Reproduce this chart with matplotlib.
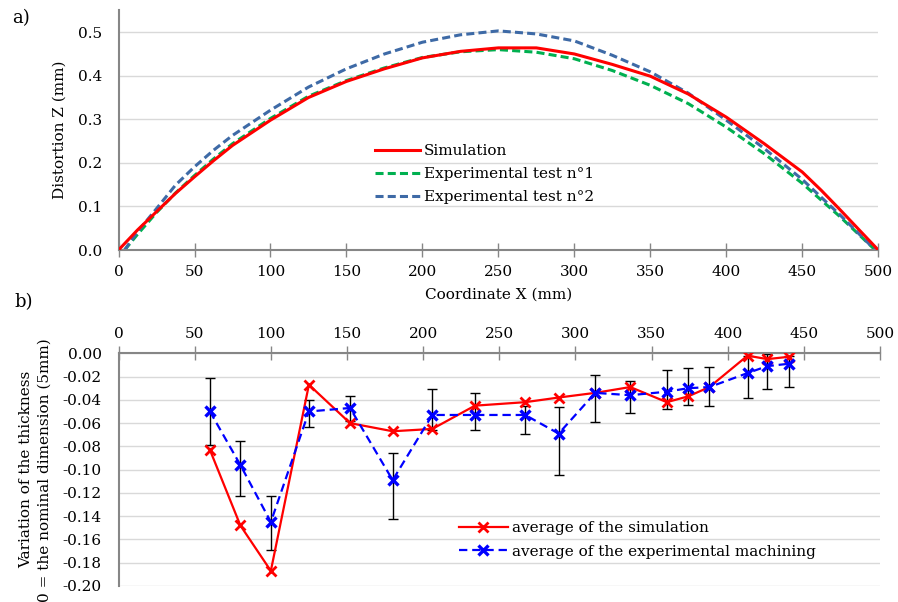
import matplotlib
matplotlib.use("Agg")
import matplotlib.pyplot as plt
import matplotlib.ticker as ticker

plt.rcParams["font.family"] = "DejaVu Serif"
plt.rcParams["font.size"] = 11
plt.rcParams["lines.scale_dashes"] = False

# a) distortion along the part
x_sim = [0, 12.5, 25, 37.5, 50, 62.5, 75, 100, 125, 150, 175, 200, 225, 250, 275, 300,
         325, 350, 375, 400, 425, 450, 462.5, 475, 487.5, 500]
z_sim = [0.000, 0.046, 0.088, 0.130, 0.168, 0.205, 0.240, 0.298, 0.350, 0.387, 0.416,
         0.441, 0.456, 0.464, 0.464, 0.450, 0.426, 0.399, 0.358, 0.305, 0.244, 0.179,
         0.137, 0.092, 0.046, 0.000]
x_exp = [4, 12.5, 25, 37.5, 50, 62.5, 75, 100, 125, 150, 175, 200, 225, 250, 275, 300,
         325, 350, 375, 400, 425, 450, 475, 498]
z_exp1 = [0.000, 0.036, 0.086, 0.131, 0.171, 0.209, 0.244, 0.302, 0.353, 0.389, 0.418,
          0.442, 0.455, 0.460, 0.454, 0.439, 0.412, 0.378, 0.336, 0.282, 0.221, 0.153,
          0.076, 0.000]
z_exp2 = [0.000, 0.042, 0.095, 0.149, 0.191, 0.229, 0.263, 0.321, 0.374, 0.416, 0.450,
          0.477, 0.494, 0.503, 0.496, 0.480, 0.447, 0.409, 0.360, 0.298, 0.233, 0.162,
          0.080, 0.000]

# b) thickness variation
pos = [60, 80, 100, 125, 152, 180, 206, 234, 267, 289, 313, 336, 360, 374, 388, 413, 426, 440]
thk_sim = [-0.083, -0.148, -0.187, -0.027, -0.060, -0.067, -0.065, -0.045, -0.042, -0.038,
           -0.034, -0.029, -0.042, -0.037, -0.029, -0.002, -0.005, -0.003]
thk_exp = [-0.050, -0.096, -0.145, -0.050, -0.047, -0.109, -0.053, -0.053, -0.053, -0.069,
           -0.034, -0.036, -0.033, -0.030, -0.029, -0.017, -0.011, -0.009]
err_low = [0.029, 0.027, 0.024, 0.013, 0.011, 0.033, 0.013, 0.013, 0.016, 0.036,
           0.025, 0.015, 0.015, 0.014, 0.016, 0.021, 0.020, 0.020]
err_high = [0.029, 0.021, 0.022, 0.010, 0.010, 0.023, 0.022, 0.019, 0.008, 0.023,
            0.015, 0.012, 0.019, 0.017, 0.017, 0.015, 0.010, 0.007]

spine_c = "#868686"
grid_c = "#d9d9d9"

fig = plt.figure(figsize=(8.98, 6.02), dpi=100)
ax1 = fig.add_axes([0.132, 0.5847, 0.846, 0.398])
ax2 = fig.add_axes([0.132, 0.0266, 0.848, 0.3865])

for ax in (ax1, ax2):
    ax.spines["right"].set_visible(False)
    ax.spines["left"].set_color(spine_c)
    ax.spines["left"].set_linewidth(1.5)
    ax.grid(axis="y", color=grid_c, lw=1)
    ax.set_axisbelow(True)
    ax.tick_params(axis="y", length=0, pad=12)
    ax.tick_params(axis="x", direction="inout", length=10, width=1, color=spine_c)
    ax.set_xlim(0, 500)
    ax.set_xticks(range(0, 501, 50))

# top panel
ax1.spines["top"].set_visible(False)
ax1.spines["bottom"].set_color(spine_c)
ax1.spines["bottom"].set_linewidth(1.5)
ax1.plot(x_sim, z_sim, color="#ff0000", lw=2.2, label="Simulation", zorder=3)
ax1.plot(x_exp, z_exp1, color="#00b050", lw=2.2, dashes=(5.8, 3), label="Experimental test n°1")
ax1.plot(x_exp, z_exp2, color="#3e6aa6", lw=2.2, dashes=(5.8, 3), label="Experimental test n°2")
ax1.set_ylim(0, 0.55)
ax1.set_yticks([0, 0.1, 0.2, 0.3, 0.4, 0.5])
ax1.yaxis.set_major_formatter(ticker.FormatStrFormatter("%.1f"))
ax1.tick_params(axis="x", pad=6)
ax1.set_xlabel("Coordinate X (mm)", labelpad=6)
ax1.set_ylabel("Distortion Z (mm)", labelpad=8)
ax1.legend(loc="center left", bbox_to_anchor=(0.33, 0.317), frameon=False,
           handlelength=2.9, handletextpad=0.3, labelspacing=0.6, borderaxespad=0)

# bottom panel
ax2.spines["bottom"].set_visible(False)
ax2.spines["top"].set_color(spine_c)
ax2.spines["top"].set_linewidth(1.5)
ax2.xaxis.tick_top()
ax2.tick_params(axis="x", pad=4)
ax2.errorbar(pos, thk_exp, yerr=[err_low, err_high], fmt="none", ecolor="black",
             elinewidth=1, capsize=3.5, capthick=1, zorder=2)
ax2.plot(pos, thk_sim, color="#ff0000", lw=1.6, marker="x", ms=7, mew=2,
         label="average of the simulation", zorder=3)
ax2.plot(pos, thk_exp, color="#0000ff", lw=1.6, dashes=(6, 3.5), marker="x", ms=7, mew=2.4,
         label="average of the experimental machining", zorder=4)
ax2.set_ylim(-0.20, 0)
ax2.set_yticks([i * -0.02 for i in range(11)])
ax2.yaxis.set_major_formatter(ticker.FuncFormatter(lambda v, p: "{:.2f}".format(v + 0.0 if abs(v) > 1e-9 else 0.0)))
ax2.set_ylabel("Variation of the thickness\n0 = the nominal dimension (5mm)", labelpad=8,
               linespacing=1.4)
ax2.legend(loc="center left", bbox_to_anchor=(0.439, 0.198), frameon=False,
           handlelength=3.2, handletextpad=0.3, labelspacing=0.6, borderaxespad=0)

fig.text(0.013, 0.97, "a)", fontsize=13, va="center")
fig.text(0.016, 0.498, "b)", fontsize=13, va="center")

fig.savefig("out.png", dpi=100)
